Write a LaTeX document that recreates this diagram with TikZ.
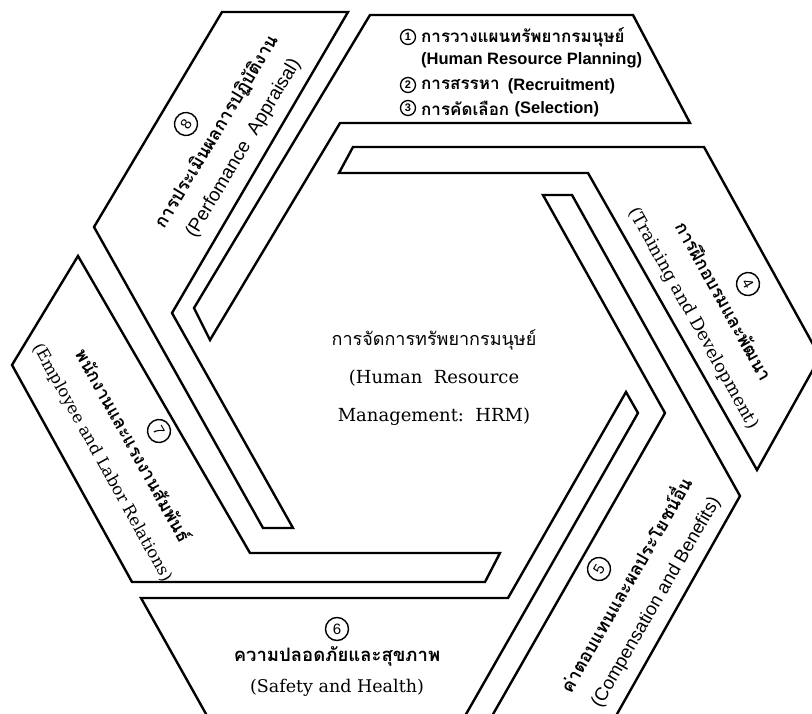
\documentclass[tikz,border=0pt]{standalone}
\usepackage{fontspec}
\setmainfont{DejaVu Serif}
\newfontfamily\thai[Script=Thai]{Loma}
\newfontfamily\sansf{Liberation Sans}
\newcommand{\thlab}[1]{{\thai\bfseries\fontsize{18}{33}\selectfont #1}}
\newcommand{\enserf}[2]{{\fontsize{#1}{33}\selectfont #2}}
\newcommand{\ensanf}[2]{{\sansf\fontsize{#1}{33}\selectfont #2}}
\begin{document}
\begin{tikzpicture}[x=1pt,y=-1pt,
  piece/.style={draw=black,line width=2.4pt,line join=miter,miter limit=20,fill=white},
  numsmall/.style={circle,draw=black,line width=1.3pt,inner sep=0pt,minimum size=15pt,font=\sansf\bfseries\fontsize{11}{11}\selectfont},
  numbig/.style={circle,draw=black,line width=1.4pt,inner sep=0pt,minimum size=23pt,font=\sansf\fontsize{15}{15}\selectfont},
  topth/.style={inner sep=0pt,anchor=west,font=\thai\bfseries\fontsize{17}{18}\selectfont},
  topen/.style={inner sep=0pt,anchor=west,font=\sansf\bfseries\fontsize{16.5}{18}\selectfont},
  lbl/.style={inner sep=0pt,align=center,font=\fontsize{18}{33}\selectfont},
  centre/.style={inner sep=0pt,font=\fontsize{18}{22}\selectfont}]
\useasboundingbox (0,0) rectangle (812,714);
\begin{scope}
\clip (0,0) rectangle (812,714);
% piece 1 (top) with arm down the upper-left inner side
\draw[piece] (370,15) -- (633,15) -- (690,123) -- (340,123) -- (210,340) -- (194,308) -- cycle;
% piece 4 (upper right) with arm along the top inner side
\draw[piece] (704,147) -- (820,357) -- (757,470) -- (588,173) -- (339,173) -- (353,147) -- cycle;
% piece 5 (lower right) with arm up the upper-right inner side
\draw[piece] (740,496) -- (608,730) -- (484,730) -- (665,413) -- (543,195) -- (572,195) -- cycle;
% piece 6 (bottom) with arm up the lower-right inner side
\draw[piece] (141,598) -- (508,598) -- (626,392) -- (638,413) -- (457,730) -- (215,730) -- cycle;
% piece 7 (lower left) with arm along the bottom inner side
\draw[piece] (78,256) -- (12,365) -- (132,582) -- (485,582) -- (500,553) -- (250,553) -- cycle;
% piece 8 (upper left) with arm down the lower-left inner side
\draw[piece] (94,227) -- (222,12) -- (348,12) -- (172,313) -- (293,528) -- (263,528) -- cycle;
\end{scope}

% top box texts
\node[numsmall] (n1) at (408,37) {1};
\node[topth] (t1) at (421,37) {การวางแผนทรัพยากรมนุษย์};
\node[topen] (t1e) at (421,60) {(Human Resource Planning)};
\node[numsmall] (n2) at (408,85) {2};
\node[topth] (t2) at (421,85) {การสรรหา};
\node[topen,anchor=base west] (t2e) at ([xshift=8pt]t2.east |- 0,91) {(Recruitment)};
\node[numsmall] (n3) at (408,108) {3};
\node[topth] (t3) at (421,108) {การคัดเลือก};
\node[topen,anchor=base west] (t3e) at ([xshift=5pt]t3.east |- 0,114) {(Selection)};

% piece 4
\node[numbig,rotate=-61] (n4) at (748,284) {4};
\node[lbl,rotate=-61] (t4) at (708,310) {\thlab{การฝึกอบรมและพัฒนา}\\\enserf{17.5}{(Training and Development)}};

% piece 5
\node[numbig,rotate=60] (n5) at (599,569) {5};
\node[lbl,rotate=60] (t5) at (640,593) {\thlab{ค่าตอบแทนและผลประโยชน์อื่น}\\\ensanf{18.5}{(Compensation and Benefits)}};

% piece 6
\node[numbig] (n6) at (337,629) {6};
\node[lbl,font=\fontsize{18}{31}\selectfont] (t6) at (337,671) {{\thai\bfseries\fontsize{18.5}{31}\selectfont ความปลอดภัยและสุขภาพ}\\{\fontsize{17.5}{31}\selectfont (Safety and Health)}};

% piece 7
\node[numbig,rotate=-61] (n7) at (159,431) {7};
\node[lbl,rotate=-61] (t7) at (118,454) {\thlab{พนักงานและแรงงานสัมพันธ์}\\\enserf{16.5}{(Employee and Labor Relations)}};

% piece 8
\node[numbig,rotate=59] (n8) at (186,124) {8};
\node[lbl,font=\fontsize{18}{31}\selectfont,rotate=59] (t8) at (230,140) {{\thai\bfseries\fontsize{18}{31}\selectfont การประเมินผลการปฏิบัติงาน}\\{\sansf\fontsize{19}{31}\selectfont (Perfomance\ \ Appraisal)}};

% centre
\node[centre] (c1) at (434,340) {\thai การจัดการทรัพยากรมนุษย์};
\node[centre] (c2) at (434,378) {(Human\ \ Resource};
\node[centre] (c3) at (434,417) {Management:\ \ HRM)};
\end{tikzpicture}
\end{document}
